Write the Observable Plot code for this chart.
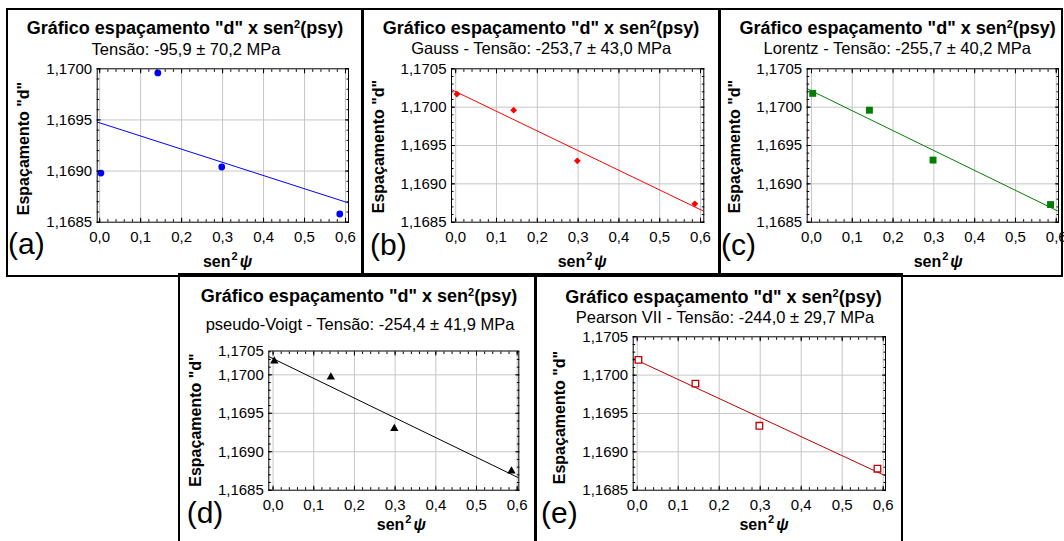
<!DOCTYPE html>
<html>
<head>
<meta charset="utf-8">
<script src="https://cdn.jsdelivr.net/npm/d3@7"></script>
<script src="https://cdn.jsdelivr.net/npm/@observablehq/plot@0.6"></script>
<style>
  body { margin: 0; background: #fff; }
  #root { position: relative; width: 1064px; height: 541px; overflow: hidden; background: #fff;
          font-family: "Liberation Sans", Arial, sans-serif; color: #000; }
  .box { position: absolute; border: 2px solid #000; box-sizing: border-box; pointer-events: none; z-index: 5; }
  .txt { position: absolute; white-space: nowrap; line-height: 1; }
  .c { transform: translateX(-50%); }
  .plotwrap { position: absolute; }
</style>
</head>
<body>
<div id="root"></div>
<script>
// ---------------- data ----------------
const sin2psi = [0.003, 0.142, 0.298, 0.586];
const dRaw      = [1.16898, 1.16996, 1.16904, 1.16858];
const dGauss    = [1.17017, 1.16996, 1.16930, 1.16874];
const dLorentz  = [1.17018, 1.16996, 1.16931, 1.16873];
const dPseudoV  = [1.17018, 1.16997, 1.16930, 1.16875];
const dPearson  = [1.17020, 1.16989, 1.16934, 1.16878];

const xTicks  = [0, 0.1, 0.2, 0.3, 0.4, 0.5, 0.6];
const yTicks4 = [1.1685, 1.1690, 1.1695, 1.1700];
const yTicks5 = [1.1685, 1.1690, 1.1695, 1.1700, 1.1705];
const yTopLabelD = "1,1705";

const titleMain = 'Gráfico espaçamento "d" x sen';
const titleSup = "2";
const titleEnd = "(psy)";
const subtitles = [
  "Tensão: -95,9 ± 70,2 MPa",
  "Gauss - Tensão: -253,7 ± 43,0 MPa",
  "Lorentz - Tensão: -255,7 ± 40,2 MPa",
  "pseudo-Voigt - Tensão: -254,4 ± 41,9 MPa",
  "Pearson VII - Tensão: -244,0 ± 29,7 MPa"
];
const letters = ["(a)", "(b)", "(c)", "(d)", "(e)"];
const yLabel = 'Espaçamento "d"';
const xLabel = "sen²ψ";

// ---------------- layout / style ----------------
const panels = [
  { values: dRaw, box: [6, 8, 364, 277], frame: [96.7, 68.3, 348, 221.7],
    xDomain: [-0.006, 0.6073], yDomain: [1.1685, 1.1700], yTicks: yTicks4,
    color: "#0000ff", symbol: "circle", r: 3.4, fill: "#0000ff", stroke: "none", rotate: 0,
    title: [185, 34.3], sub: [186, 55], letter: [8, 254.5], yLab: [23.3, 148], xLab: [227, 266.3] },
  { values: dGauss, box: [361, 8, 721, 277], frame: [451, 68.3, 703.3, 221.7],
    xDomain: [-0.0103, 0.608], yDomain: [1.1685, 1.1705], yTicks: yTicks5,
    color: "#ff0000", symbol: "square", r: 2.7, fill: "#ff0000", stroke: "none", rotate: 45,
    title: [541, 34.3], sub: [541.2, 54.3], letter: [370, 255.4], yLab: [378.3, 146], xLab: [581.7, 266.5] },
  { values: dLorentz, box: [718, 8, 1063, 277], frame: [806.7, 68.3, 1058, 221.7],
    xDomain: [-0.0105, 0.6055], yDomain: [1.1685, 1.1705], yTicks: yTicks5,
    color: "#008000", symbol: "square", r: 3.9, fill: "#008000", stroke: "none", rotate: 0,
    title: [897.7, 34.3], sub: [897.3, 54.3], letter: [721, 255.4], yLab: [734.3, 146], xLab: [937.7, 266.5] },
  { values: dPseudoV, box: [178, 273, 537, 600], frame: [268.3, 350.5, 518.3, 489.7],
    xDomain: [-0.0105, 0.604], yDomain: [1.1685, 1.17031], yTicks: yTicks4, topLabel: yTopLabelD,
    color: "#000000", symbol: "triangle", r: 3.1, fill: "#000000", stroke: "none", rotate: 0,
    title: [359, 302.3], sub: [360, 330.3], letter: [186.7, 523.4], yLab: [195, 419.5], xLab: [400.8, 529.7] },
  { values: dPearson, box: [534, 273, 903, 600], frame: [632.7, 336.3, 885, 489.7],
    xDomain: [-0.0098, 0.6056], yDomain: [1.1685, 1.1705], yTicks: yTicks5,
    color: "#c00000", symbol: "square", r: 3.7, fill: "#ffffff", stroke: "#c00000", rotate: 0,
    title: [723.5, 303.7], sub: [725, 323], letter: [541, 523.4], yLab: [559.3, 417], xLab: [763.5, 529.7] }
];

const root = document.getElementById("root");
const commaFmt = spec => v => d3.format(spec)(v).replace(".", ",");
const noText = () => "";
const ASC = 0.8465;

function addText(html, x, baseline, fs, weight, centered) {
  const d = document.createElement("div");
  d.className = "txt" + (centered ? " c" : "");
  d.style.left = x + "px";
  d.style.top = (baseline - ASC * fs) + "px";
  d.style.fontSize = fs + "px";
  d.style.fontWeight = weight;
  d.innerHTML = html;
  root.appendChild(d);
}

function regression(xs, ys) {
  const mx = d3.mean(xs), my = d3.mean(ys);
  let sxy = 0, sxx = 0;
  xs.forEach((x, i) => { sxy += (x - mx) * (ys[i] - my); sxx += (x - mx) * (x - mx); });
  const slope = sxy / sxx;
  return { slope, intercept: my - slope * mx };
}

const esc = s => s.replace(/&/g, "&amp;").replace(/</g, "&lt;").replace(/"/g, "&quot;");

panels.forEach((p, i) => {
  const [bx0, by0, bx1, by1] = p.box;
  const [fx0, fy0, fx1, fy1] = p.frame;
  const W = bx1 - bx0, H = by1 - by0;
  const pts = sin2psi.map((x, k) => ({ x, y: p.values[k] }));
  const { slope, intercept } = regression(sin2psi, p.values);
  const fit = p.xDomain.map(x => ({ x, y: intercept + slope * x }));
  const xMinor = d3.range(0, 31).map(k => k * 0.02).filter(v => v >= p.xDomain[0] && v <= p.xDomain[1] + 1e-9);
  const yMinor = d3.range(0, 21).map(k => 1.1685 + k * 0.0001).filter(v => v <= p.yDomain[1] + 1e-9);
  const yGrid = p.yTicks.filter(v => v > p.yDomain[0] + 1e-9 && v < p.yDomain[1] - 1e-9);
  const xGrid = xTicks.filter(v => v > p.xDomain[0] + 1e-6 && v < p.xDomain[1] - 1e-6);

  const tickOnly = { tickFormat: noText, label: null, stroke: "#000", fontSize: 1 };
  const marks = [
    Plot.gridX(xGrid, { stroke: "#c6c6c6", strokeOpacity: 1, strokeWidth: 1 }),
    Plot.gridY(yGrid, { stroke: "#c6c6c6", strokeOpacity: 1, strokeWidth: 1 }),
    Plot.line(fit, { x: "x", y: "y", stroke: p.color, strokeWidth: 1, clip: true }),
    Plot.dot(pts, { x: "x", y: "y", symbol: p.symbol, r: p.r, fill: p.fill, stroke: p.stroke,
                    strokeWidth: p.stroke === "none" ? 0 : 1.3, rotate: p.rotate }),
    Plot.frame({ stroke: "#000", strokeWidth: 1 }),
    // inward tick marks on all four sides
    Plot.axisX(xTicks, { anchor: "bottom", tickSize: -4, ...tickOnly }),
    Plot.axisX(xTicks, { anchor: "top", tickSize: -4, ...tickOnly }),
    Plot.axisX(xMinor, { anchor: "bottom", tickSize: -2.5, ...tickOnly }),
    Plot.axisX(xMinor, { anchor: "top", tickSize: -2.5, ...tickOnly }),
    Plot.axisY(p.yTicks, { anchor: "left", tickSize: -4, ...tickOnly }),
    Plot.axisY(p.yTicks, { anchor: "right", tickSize: -4, ...tickOnly }),
    Plot.axisY(yMinor, { anchor: "left", tickSize: -2.5, ...tickOnly }),
    Plot.axisY(yMinor, { anchor: "right", tickSize: -2.5, ...tickOnly }),
    // tick labels
    Plot.axisX(xTicks, { anchor: "bottom", tickSize: 0, tickPadding: 9, tickFormat: commaFmt(".1f"), label: null, fontSize: 15, fill: "#000" }),
    Plot.axisY(p.yTicks, { anchor: "left", tickSize: 0, tickPadding: 5, tickFormat: commaFmt(".4f"), label: null, fontSize: 15, fill: "#000" }),
    // axis titles
    Plot.text([yLabel], { text: d => d, frameAnchor: "left", rotate: -90, textAnchor: "middle", lineAnchor: "middle",
                          dx: p.yLab[0] - fx0, dy: p.yLab[1] - (fy0 + fy1) / 2, fontWeight: "bold", fontSize: 16, fill: "#000" }),
    Plot.text([xLabel], { text: d => d, frameAnchor: "bottom", textAnchor: "middle", lineAnchor: "bottom",
                          dx: p.xLab[0] - (fx0 + fx1) / 2, dy: p.xLab[1] - fy1, fontWeight: "bold", fontSize: 16, fill: "#000" })
  ];
  if (p.topLabel) {
    marks.push(Plot.axisY([p.yDomain[1]], { anchor: "left", tickSize: 0, tickPadding: 5, tickFormat: () => p.topLabel, label: null, fontSize: 15, fill: "#000" }));
  }

  const svg = Plot.plot({
    width: W, height: H,
    marginLeft: fx0 - bx0, marginRight: bx1 - fx1, marginTop: fy0 - by0, marginBottom: by1 - fy1,
    x: { domain: p.xDomain },
    y: { domain: p.yDomain },
    style: { fontFamily: '"Liberation Sans", Arial, sans-serif', fontSize: "15px", background: "transparent", overflow: "visible", color: "#000", maxWidth: "none" },
    marks
  });

  // remove the empty tick-only label texts
  d3.select(svg).selectAll("text").filter(function () { return this.textContent === ""; }).remove();

  // rich x label: sen ² ψ (italic psi)
  d3.select(svg).selectAll("text").filter(function () { return this.textContent === xLabel; })
    .each(function () {
      const t = d3.select(this);
      t.text(null);
      t.append("tspan").text("sen");
      t.append("tspan").attr("font-size", 11).attr("dy", -7).attr("dx", 1).text("2");
      t.append("tspan").attr("font-style", "italic").attr("dy", 7).attr("dx", 2).text("ψ");
    });

  const wrap = document.createElement("div");
  wrap.className = "plotwrap";
  wrap.style.left = bx0 + "px";
  wrap.style.top = by0 + "px";
  wrap.appendChild(svg);
  root.appendChild(wrap);

  // titles
  addText(esc(titleMain) + '<span style="font-size:11px;position:relative;top:-6px">' + titleSup + "</span>" + esc(titleEnd),
          p.title[0], p.title[1], 18, "bold", true);
  addText(esc(subtitles[i]), p.sub[0], p.sub[1], 16.5, "normal", true);
  addText(letters[i], p.letter[0], p.letter[1], 30, "normal", false);

  const box = document.createElement("div");
  box.className = "box";
  box.style.left = bx0 + "px";
  box.style.top = by0 + "px";
  box.style.width = W + "px";
  box.style.height = H + "px";
  root.appendChild(box);
});
</script>
</body>
</html>
